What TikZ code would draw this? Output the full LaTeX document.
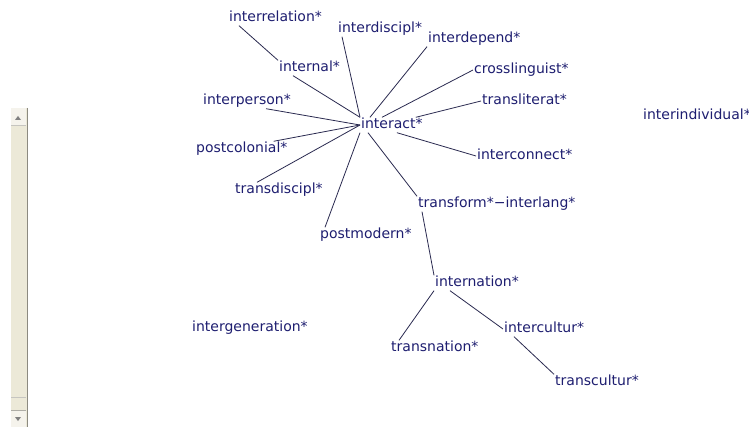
\documentclass[tikz,border=0pt]{standalone}
\usepackage{fontspec}
\newfontfamily\netfont{DejaVu Sans}
\definecolor{termblue}{RGB}{30,30,112}
\definecolor{linkgray}{RGB}{42,42,80}
\definecolor{barbeige}{RGB}{236,233,216}
\definecolor{barbutton}{RGB}{245,243,236}
\definecolor{baredge}{RGB}{140,138,128}
\tikzstyle{term} = [anchor=west, inner sep=1pt, text height=10pt, text depth=3pt, text=termblue, font=\netfont\fontsize{14}{16}\selectfont]
\tikzstyle{link} = [draw=linkgray, line width=0.8pt]

\begin{document}
\begin{tikzpicture}[x=1pt, y=-1pt]
		\useasboundingbox[fill=white] (0,0) rectangle (749,427);

		\fill[barbeige] (11,108) rectangle (27,427);
		\fill[barbutton] (11,108) rectangle (26,125);
		\fill[barbutton] (11,410) rectangle (26,427);
		\draw[baredge] (27,108) -- (27,427);
		\draw[baredge!50] (11,125) -- (26,125);
		\draw[baredge!50] (11,397) -- (26,397);
		\draw[baredge!70] (11,410) -- (26,410);
		\fill[gray] (15,120) -- (21,120) -- (18,116) -- cycle;
		\fill[gray] (15,417) -- (21,417) -- (18,421) -- cycle;

		\node (interrelation) [term] at (228,18) {interrelation*};
		\node (interdiscipl) [term] at (337,29) {interdiscipl*};
		\node (interdepend) [term] at (427,39) {interdepend*};
		\node (internal) [term] at (278,68) {internal*};
		\node (crosslinguist) [term] at (473,70) {crosslinguist*};
		\node (interperson) [term] at (202,101) {interperson*};
		\node (transliterat) [term] at (481,101) {transliterat*};
		\node (interact) [term] at (360,125) {interact*};
		\node (interindividual) [term] at (642,116) {interindividual*};
		\node (postcolonial) [term] at (195,149) {postcolonial*};
		\node (interconnect) [term] at (476,156) {interconnect*};
		\node (transdiscipl) [term] at (234,190) {transdiscipl*};
		\node (transform) [term] at (417,204) {transform*−interlang*};
		\node (postmodern) [term] at (319,235) {postmodern*};
		\node (internation) [term] at (434,283) {internation*};
		\node (intergeneration) [term] at (191,328) {intergeneration*};
		\node (intercultur) [term] at (503,329) {intercultur*};
		\node (transnation) [term] at (390,348) {transnation*};
		\node (transcultur) [term] at (554,382) {transcultur*};

		\draw [link]([xshift=11pt]interrelation.south west) -- (internal.north west);
		\draw [link]([xshift=15pt]internal.south west) -- (interact.north west);
		\draw [link]([xshift=5pt]interdiscipl.south west) -- (interact.north west);
		\draw [link](interdepend.south west) -- ([xshift=10pt]interact.north west);
		\draw [link](crosslinguist.west) -- ([xshift=22pt]interact.north west);
		\draw [link](transliterat.west) -- ([xshift=-8pt]interact.north east);
		\draw [link]([xshift=-26pt]interperson.south east) -- (interact.west);
		\draw [link]([xshift=-15pt]postcolonial.north east) -- (interact.west);
		\draw [link]([xshift=23pt]transdiscipl.north west) -- (interact.west);
		\draw [link]([xshift=6pt]postmodern.north west) -- (interact.south west);
		\draw [link](interconnect.west) -- ([xshift=5pt]interact.south);
		\draw [link](transform.north west) -- ([xshift=8pt]interact.south west);
		\draw [link]([xshift=5pt]transform.south west) -- (internation.north west);
		\draw [link](internation.south west) -- ([xshift=9pt]transnation.north west);
		\draw [link]([xshift=16pt]internation.south west) -- (intercultur.west);
		\draw [link]([xshift=11pt]intercultur.south west) -- (transcultur.north west);
	\end{tikzpicture}
\end{document}
